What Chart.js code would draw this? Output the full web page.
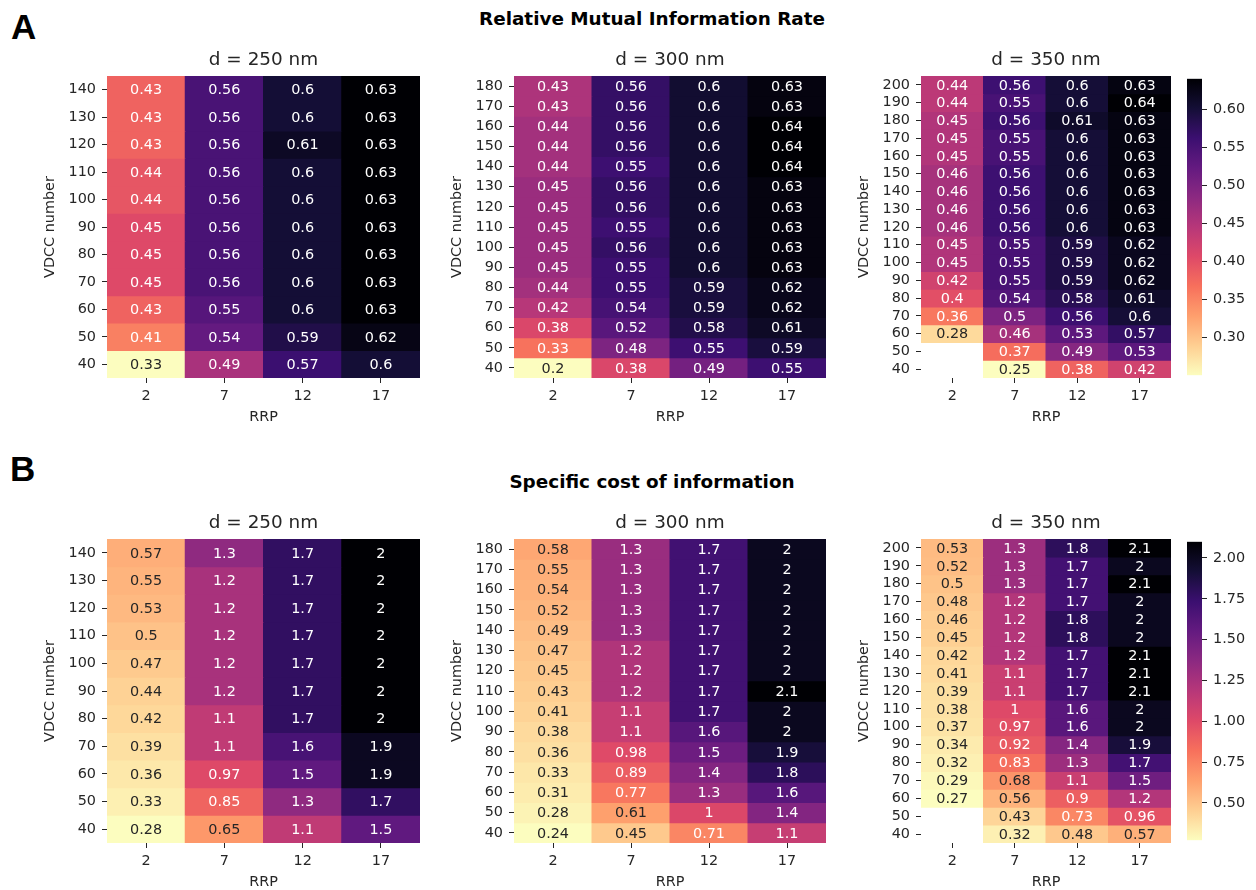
<!DOCTYPE html>
<html>
<head>
<meta charset="utf-8">
<script src="https://cdn.jsdelivr.net/npm/chart.js@4.4.0/dist/chart.umd.min.js"></script>
<style>
body { margin:0; background:#fff; width:1256px; height:890px; position:relative; overflow:hidden; font-family:"DejaVu Sans", sans-serif; }
canvas, .lbl { position:absolute; }
.panel { font-family:"Liberation Sans", Arial, sans-serif; font-weight:bold; font-size:35px; line-height:35px; color:#000; }
.sup { font-weight:bold; font-size:18.4px; line-height:22px; width:600px; text-align:center; color:#000; }
</style>
</head>
<body>
<div class="lbl panel" style="left:11px;top:8.5px">A</div>
<div class="lbl sup" style="left:352px;top:8px">Relative Mutual Information Rate</div>
<div class="lbl panel" style="left:10px;top:450.5px">B</div>
<div class="lbl sup" style="left:352px;top:471px">Specific cost of information</div>

<canvas id="mir250"></canvas>
<canvas id="mir300"></canvas>
<canvas id="mir350"></canvas>
<canvas id="mirBar"></canvas>
<canvas id="sci250"></canvas>
<canvas id="sci300"></canvas>
<canvas id="sci350"></canvas>
<canvas id="sciBar"></canvas>

<script>
// RRP columns and VDCC rows (rows listed top to bottom)
const rrp = ['2', '7', '12', '17'];
const vdcc250 = [140, 130, 120, 110, 100, 90, 80, 70, 60, 50, 40];
const vdcc300 = [180, 170, 160, 150, 140, 130, 120, 110, 100, 90, 80, 70, 60, 50, 40];
const vdcc350 = [200, 190, 180, 170, 160, 150, 140, 130, 120, 110, 100, 90, 80, 70, 60, 50, 40];

// relative mutual information rate, each row = [RRP 2, 7, 12, 17]
const mir250 = [
    [0.43, 0.56, 0.6, 0.63],
    [0.43, 0.56, 0.6, 0.63],
    [0.43, 0.56, 0.61, 0.63],
    [0.44, 0.56, 0.6, 0.63],
    [0.44, 0.56, 0.6, 0.63],
    [0.45, 0.56, 0.6, 0.63],
    [0.45, 0.56, 0.6, 0.63],
    [0.45, 0.56, 0.6, 0.63],
    [0.43, 0.55, 0.6, 0.63],
    [0.41, 0.54, 0.59, 0.62],
    [0.33, 0.49, 0.57, 0.6]
];
const mir300 = [
    [0.43, 0.56, 0.6, 0.63],
    [0.43, 0.56, 0.6, 0.63],
    [0.44, 0.56, 0.6, 0.64],
    [0.44, 0.56, 0.6, 0.64],
    [0.44, 0.55, 0.6, 0.64],
    [0.45, 0.56, 0.6, 0.63],
    [0.45, 0.56, 0.6, 0.63],
    [0.45, 0.55, 0.6, 0.63],
    [0.45, 0.56, 0.6, 0.63],
    [0.45, 0.55, 0.6, 0.63],
    [0.44, 0.55, 0.59, 0.62],
    [0.42, 0.54, 0.59, 0.62],
    [0.38, 0.52, 0.58, 0.61],
    [0.33, 0.48, 0.55, 0.59],
    [0.2, 0.38, 0.49, 0.55]
];
const mir350 = [
    [0.44, 0.56, 0.6, 0.63],
    [0.44, 0.55, 0.6, 0.64],
    [0.45, 0.56, 0.61, 0.63],
    [0.45, 0.55, 0.6, 0.63],
    [0.45, 0.55, 0.6, 0.63],
    [0.46, 0.56, 0.6, 0.63],
    [0.46, 0.56, 0.6, 0.63],
    [0.46, 0.56, 0.6, 0.63],
    [0.46, 0.56, 0.6, 0.63],
    [0.45, 0.55, 0.59, 0.62],
    [0.45, 0.55, 0.59, 0.62],
    [0.42, 0.55, 0.59, 0.62],
    [0.4, 0.54, 0.58, 0.61],
    [0.36, 0.5, 0.56, 0.6],
    [0.28, 0.46, 0.53, 0.57],
    [null, 0.37, 0.49, 0.53],
    [null, 0.25, 0.38, 0.42]
];

// specific cost of information
const sci250 = [
    [0.57, 1.3, 1.7, 2],
    [0.55, 1.2, 1.7, 2],
    [0.53, 1.2, 1.7, 2],
    [0.5, 1.2, 1.7, 2],
    [0.47, 1.2, 1.7, 2],
    [0.44, 1.2, 1.7, 2],
    [0.42, 1.1, 1.7, 2],
    [0.39, 1.1, 1.6, 1.9],
    [0.36, 0.97, 1.5, 1.9],
    [0.33, 0.85, 1.3, 1.7],
    [0.28, 0.65, 1.1, 1.5]
];
const sci300 = [
    [0.58, 1.3, 1.7, 2],
    [0.55, 1.3, 1.7, 2],
    [0.54, 1.3, 1.7, 2],
    [0.52, 1.3, 1.7, 2],
    [0.49, 1.3, 1.7, 2],
    [0.47, 1.2, 1.7, 2],
    [0.45, 1.2, 1.7, 2],
    [0.43, 1.2, 1.7, 2.1],
    [0.41, 1.1, 1.7, 2],
    [0.38, 1.1, 1.6, 2],
    [0.36, 0.98, 1.5, 1.9],
    [0.33, 0.89, 1.4, 1.8],
    [0.31, 0.77, 1.3, 1.6],
    [0.28, 0.61, 1, 1.4],
    [0.24, 0.45, 0.71, 1.1]
];
const sci350 = [
    [0.53, 1.3, 1.8, 2.1],
    [0.52, 1.3, 1.7, 2],
    [0.5, 1.3, 1.7, 2.1],
    [0.48, 1.2, 1.7, 2],
    [0.46, 1.2, 1.8, 2],
    [0.45, 1.2, 1.8, 2],
    [0.42, 1.2, 1.7, 2.1],
    [0.41, 1.1, 1.7, 2.1],
    [0.39, 1.1, 1.7, 2.1],
    [0.38, 1, 1.6, 2],
    [0.37, 0.97, 1.6, 2],
    [0.34, 0.92, 1.4, 1.9],
    [0.32, 0.83, 1.3, 1.7],
    [0.29, 0.68, 1.1, 1.5],
    [0.27, 0.56, 0.9, 1.2],
    [null, 0.43, 0.73, 0.96],
    [null, 0.32, 0.48, 0.57]
];

// colorbar tick labels
const mirBarTicks = [0.30, 0.35, 0.40, 0.45, 0.50, 0.55, 0.60];
const sciBarTicks = [0.50, 0.75, 1.00, 1.25, 1.50, 1.75, 2.00];

// magma colormap stops, dark to light
const MAGMA = ['#000004', '#140e36', '#3b0f70', '#641a80', '#8c2981', '#b73779',
               '#de4968', '#f7705c', '#fe9f6d', '#fecf92', '#fcfdbf'];
const MAGMA_RGB = MAGMA.map(h => [1, 3, 5].map(i => parseInt(h.substr(i, 2), 16)));

// reversed magma: 0 -> light yellow, 1 -> black
function magmaR(t) {
    t = Math.min(1, Math.max(0, t));
    const s = (1 - t) * (MAGMA_RGB.length - 1);
    const i = Math.min(Math.floor(s), MAGMA_RGB.length - 2);
    const f = s - i;
    const a = MAGMA_RGB[i], b = MAGMA_RGB[i + 1];
    return a.map((c, k) => Math.round(c + (b[k] - c) * f));
}
function rgbStr(c) { return `rgb(${c[0]},${c[1]},${c[2]})`; }
function luminance(c) {
    const l = c.map(v => {
        v /= 255;
        return v <= 0.03928 ? v / 12.92 : Math.pow((v + 0.055) / 1.055, 2.4);
    });
    return 0.2126 * l[0] + 0.7152 * l[1] + 0.0722 * l[2];
}
function range(rows) {
    const all = rows.flat().filter(v => v !== null);
    return [Math.min(...all), Math.max(...all)];
}

const FONT = "'DejaVu Sans', sans-serif";
const TXT = '#262626';
const TICK_FONT = {family: FONT, size: 14.4};
const YW = 80, TT = 31, XH = 50, RP = 10;

// write the value in the middle of every cell
const cellText = {
    id: 'cellText',
    afterDatasetsDraw(chart) {
        const ctx = chart.ctx;
        ctx.save();
        ctx.font = `14.4px ${FONT}`;
        ctx.textAlign = 'center';
        ctx.textBaseline = 'middle';
        chart.data.datasets.forEach((ds, i) => {
            chart.getDatasetMeta(i).data.forEach((bar, j) => {
                const v = ds.values[j];
                if (v === null) return;
                const p = bar.getCenterPoint();
                ctx.fillStyle = ds.textColors[j];
                ctx.fillText(String(v), p.x, p.y + 1);
            });
        });
        ctx.restore();
    }
};

function placeCanvas(id, left, top, w, h) {
    const cv = document.getElementById(id);
    cv.width = w;
    cv.height = h;
    cv.style.left = left + 'px';
    cv.style.top = top + 'px';
    return cv;
}

function heatmap(id, title, vdcc, rows, area) {
    const [vmin, vmax] = range(rows);
    const half = (vdcc[0] - vdcc[1]) / 2;
    const datasets = rows.map((row, r) => {
        const cols = row.map(v => v === null ? null : magmaR((v - vmin) / (vmax - vmin)));
        return {
            data: row.map(v => v === null ? null : [vdcc[r] - half, vdcc[r] + half]),
            values: row,
            backgroundColor: cols.map(c => c ? rgbStr(c) : 'rgba(0,0,0,0)'),
            textColors: cols.map(c => c && luminance(c) > 0.408 ? TXT : '#ffffff'),
            grouped: false,
            barPercentage: 1,
            categoryPercentage: 1,
            borderWidth: 0,
            inflateAmount: 0.5
        };
    });
    const [l, t, r, b] = area;
    const cv = placeCanvas(id, l - YW, t - TT, r - l + YW + RP, b - t + TT + XH);
    new Chart(cv, {
        type: 'bar',
        data: {labels: rrp, datasets: datasets},
        options: {
            responsive: false,
            animation: false,
            layout: {padding: {left: 0, right: RP, top: 0, bottom: 0}},
            plugins: {
                legend: {display: false},
                tooltip: {enabled: false},
                title: {
                    display: true, text: title, color: TXT, fullSize: false,
                    font: {family: FONT, size: 18.4, weight: 'normal'},
                    padding: {top: 4.5, bottom: TT - 4.5 - 18.4 * 1.2}
                }
            },
            scales: {
                x: {
                    grid: {display: true, offset: false, drawOnChartArea: false, tickLength: 5, tickColor: TXT},
                    border: {display: false},
                    ticks: {color: TXT, font: TICK_FONT, padding: 5},
                    title: {display: true, text: 'RRP', color: TXT, font: TICK_FONT, padding: {top: 0, bottom: 2.4}},
                    afterFit: s => { s.height = XH; }
                },
                y: {
                    min: vdcc[vdcc.length - 1] - half,
                    max: vdcc[0] + half,
                    afterBuildTicks: s => { s.ticks = vdcc.map(v => ({value: v})); },
                    grid: {display: true, drawOnChartArea: false, tickLength: 5, tickColor: TXT},
                    border: {display: false},
                    ticks: {color: TXT, font: TICK_FONT, padding: 6, autoSkip: false},
                    title: {display: true, text: 'VDCC number', color: TXT, font: TICK_FONT, padding: {top: 14.4, bottom: 0}},
                    afterFit: s => { s.width = YW; }
                }
            }
        },
        plugins: [cellText]
    });
}

function colorbar(id, rows, ticks, area) {
    const [vmin, vmax] = range(rows);
    const [l, t, r, b] = area;
    const CW = 65, PAD = 12;
    const cv = placeCanvas(id, l, t - PAD, r - l + CW, b - t + 2 * PAD);
    new Chart(cv, {
        type: 'bar',
        data: {
            labels: [''],
            datasets: [{
                data: [[vmin, vmax]],
                backgroundColor: ctx => {
                    const a = ctx.chart.chartArea;
                    if (!a) return 'rgba(0,0,0,0)';
                    const g = ctx.chart.ctx.createLinearGradient(0, a.bottom, 0, a.top);
                    for (let i = 0; i <= 20; i++) g.addColorStop(i / 20, rgbStr(magmaR(i / 20)));
                    return g;
                },
                barPercentage: 1,
                categoryPercentage: 1,
                borderWidth: 0
            }]
        },
        options: {
            responsive: false,
            animation: false,
            layout: {padding: {left: 0, right: 0, top: PAD, bottom: PAD}},
            plugins: {legend: {display: false}, tooltip: {enabled: false}},
            scales: {
                x: {display: false},
                y: {
                    position: 'right',
                    min: vmin,
                    max: vmax,
                    afterBuildTicks: s => { s.ticks = ticks.map(v => ({value: v})); },
                    grid: {display: true, drawOnChartArea: false, tickLength: 5, tickColor: TXT},
                    border: {display: false},
                    ticks: {color: TXT, font: TICK_FONT, padding: 6, callback: v => Number(v).toFixed(2)},
                    afterFit: s => { s.width = CW; }
                }
            }
        }
    });
}

// chart areas: [left, top, right, bottom]
heatmap('mir250', 'd = 250 nm', vdcc250, mir250, [107, 76, 420, 378]);
heatmap('mir300', 'd = 300 nm', vdcc300, mir300, [514, 76, 826, 378]);
heatmap('mir350', 'd = 350 nm', vdcc350, mir350, [921, 76, 1171, 378]);
colorbar('mirBar', mir350, mirBarTicks, [1187, 76, 1202, 378]);

heatmap('sci250', 'd = 250 nm', vdcc250, sci250, [107, 539, 420, 843]);
heatmap('sci300', 'd = 300 nm', vdcc300, sci300, [514, 539, 826, 843]);
heatmap('sci350', 'd = 350 nm', vdcc350, sci350, [921, 539, 1171, 843]);
colorbar('sciBar', sci350, sciBarTicks, [1187, 539, 1202, 843]);
</script>
</body>
</html>
